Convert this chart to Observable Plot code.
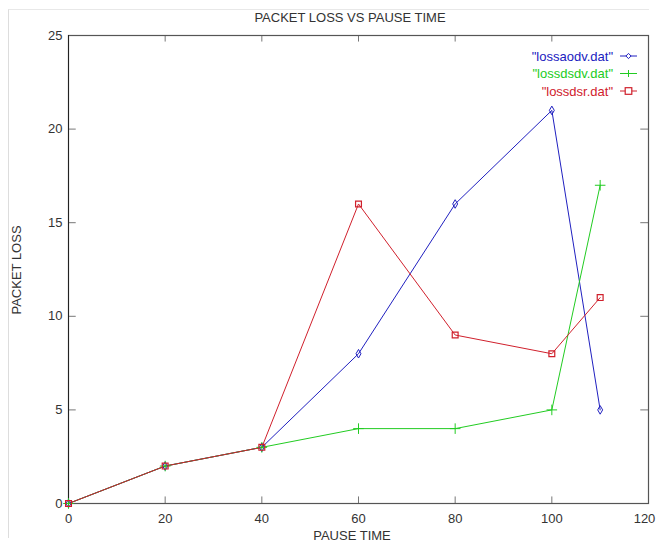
<!DOCTYPE html>
<html><head><meta charset="utf-8">
<script src="https://cdn.jsdelivr.net/npm/d3@7"></script>
<script src="https://cdn.jsdelivr.net/npm/@observablehq/plot@0.6"></script>
<style>
body{margin:0;background:#fff;}
#wrap{position:relative;width:656px;height:544px;background:#fff;}
#wrap svg{position:absolute;left:0;top:0;}
.fr{position:absolute;left:8px;top:9px;width:640px;height:528px;border-left:1px solid #ddd;border-top:1px solid #e8e8e8;}
</style>
</head><body>
<div id="wrap"><div class="fr"></div></div>
<script>
const pauseTime = [0, 20, 40, 60, 80, 100, 110];
const lossAodv = [0, 2, 3, 8, 16, 21, 5];
const lossDsdv = [0, 2, 3, 4, 4, 5, 17];
const lossDsr  = [0, 2, 3, 16, 9, 8, 11];
const seriesNames = ['"lossaodv.dat"', '"lossdsdv.dat"', '"lossdsr.dat"'];
const seriesColors = ["#2020c0", "#22cc22", "#d0202c"];
const xTicks = [0, 20, 40, 60, 80, 100, 120];
const yTicks = [0, 5, 10, 15, 20, 25];

const seriesVals = [lossAodv, lossDsdv, lossDsr];
const data = [];
seriesVals.forEach((vals, s) => vals.forEach((v, i) => data.push({series: seriesNames[s], x: pauseTime[i], y: v})));
const bySeries = n => data.filter(d => d.series === n);

const font = "'Liberation Sans',Arial,sans-serif";
const tickLen = 0.35; // y units
const xTickLen = 1.6; // x units
const lastX = xTicks[xTicks.length - 1];

const plot = Plot.plot({
  width: 656, height: 544,
  marginLeft: 68, marginRight: 8, marginTop: 35, marginBottom: 41,
  style: {fontFamily: font, fontSize: "13px", color: "#333", background: "transparent"},
  x: {domain: [0, 120], ticks: xTicks, label: null},
  y: {domain: [0, 25], ticks: yTicks, label: null},
  color: {domain: seriesNames, range: seriesColors},
  marks: [
    Plot.axisX(xTicks.slice(0, -1), {tickSize: 0, tickPadding: 10, fontSize: 13, fill: "#333"}),
    Plot.axisX([lastX], {tickSize: 0, tickPadding: 10, fontSize: 13, fill: "#333", dx: -4}),
    Plot.axisY(yTicks, {tickSize: 0, tickPadding: 6, fontSize: 13, fill: "#333"}),
    Plot.ruleX(xTicks, {x: d => d, y1: 0, y2: tickLen, stroke: "#777"}),
    Plot.ruleX(xTicks, {x: d => d, y1: 25, y2: 25 - tickLen, stroke: "#777"}),
    Plot.ruleY(yTicks, {y: d => d, x1: 0, x2: xTickLen, stroke: "#777"}),
    Plot.ruleY(yTicks, {y: d => d, x1: 120, x2: 120 - xTickLen, stroke: "#777"}),
    Plot.frame({stroke: "#555", strokeWidth: 1.2}),
    Plot.ruleX([0], {stroke: "#222"}),
    Plot.line(data, {x: "x", y: "y", z: "series", stroke: "series", strokeWidth: 1}),
    Plot.dot(bySeries(seriesNames[0]), {x: "x", y: "y", symbol: "diamond", r: 2.6, stroke: seriesColors[0], fill: "none", strokeWidth: 1}),
    Plot.dot(bySeries(seriesNames[1]), {x: "x", y: "y", symbol: "plus", r: 3.5, stroke: seriesColors[1], strokeWidth: 1}),
    Plot.dot(bySeries(seriesNames[2]), {x: "x", y: "y", symbol: "square", r: 3.3, stroke: seriesColors[2], fill: "none", strokeWidth: 1.2})
  ]
});
document.getElementById("wrap").appendChild(plot);

const svg = d3.select(plot);
svg.append("text").attr("x", 350).attr("y", 22).attr("text-anchor", "middle")
  .attr("font-family", font).attr("font-size", 13).attr("fill", "#333").text("PACKET LOSS VS PAUSE TIME");
svg.append("text").attr("x", 352).attr("y", 540).attr("text-anchor", "middle")
  .attr("font-family", font).attr("font-size", 13).attr("fill", "#333").text("PAUSE TIME");
svg.append("text").attr("transform", "translate(21,270) rotate(-90)").attr("text-anchor", "middle")
  .attr("font-family", font).attr("font-size", 13).attr("fill", "#333").text("PACKET LOSS");

// legend
const symbols = ["diamond", "plus", "square"];
seriesNames.forEach((n, i) => {
  const y = 56 + i * 17.5;
  const g = svg.append("g").attr("font-family", font).attr("font-size", 13);
  g.append("text").attr("x", 613).attr("y", y).attr("dy", "0.35em").attr("text-anchor", "end").attr("fill", seriesColors[i]).text(n);
  g.append("line").attr("x1", 620).attr("x2", 637).attr("y1", y).attr("y2", y).attr("stroke", seriesColors[i]);
  const cx = 628.5;
  if (symbols[i] === "diamond") g.append("path").attr("d", `M${cx},${y-2.6}L${cx+2.6},${y}L${cx},${y+2.6}L${cx-2.6},${y}Z`).attr("fill", "#fff").attr("stroke", seriesColors[i]);
  if (symbols[i] === "plus") g.append("path").attr("d", `M${cx},${y-3.5}V${y+3.5}M${cx-3.5},${y}H${cx+3.5}`).attr("stroke", seriesColors[i]);
  if (symbols[i] === "square") g.append("rect").attr("x", cx-3.3).attr("y", y-3.3).attr("width", 6.6).attr("height", 6.6).attr("fill", "#fff").attr("stroke", seriesColors[i]).attr("stroke-width", 1.2);
});
</script>
</body></html>
